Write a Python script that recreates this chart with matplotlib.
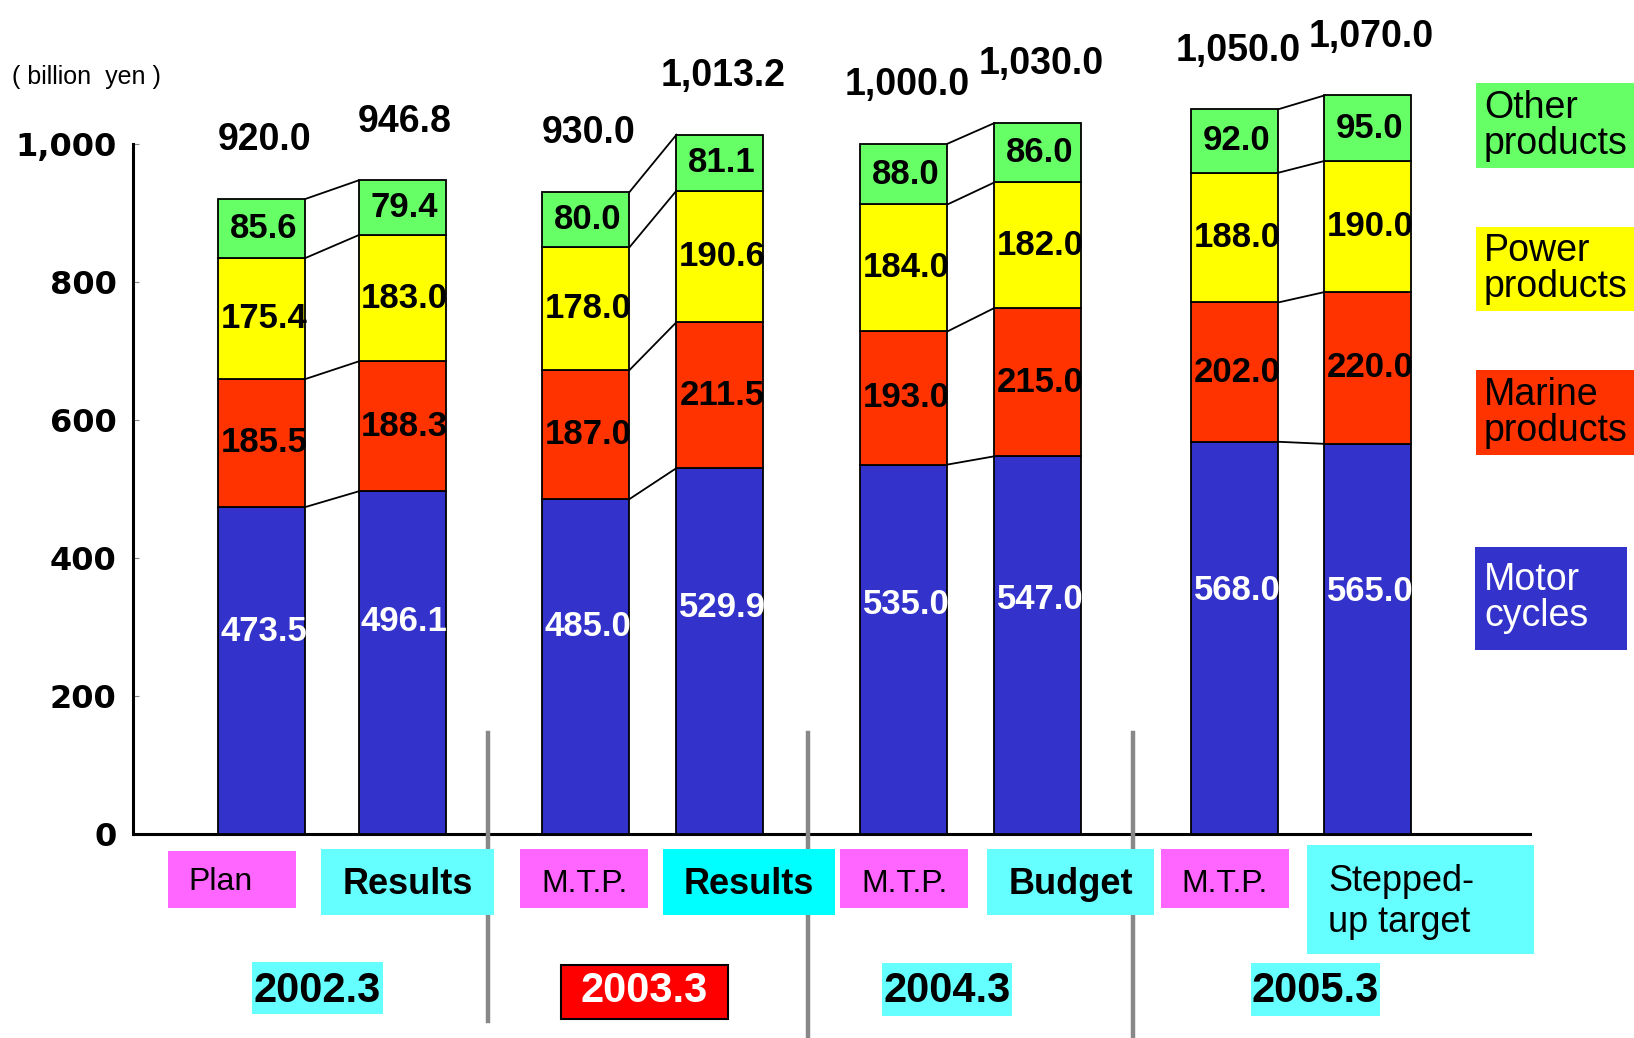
import matplotlib
matplotlib.use("Agg")
import matplotlib.pyplot as plt
from matplotlib.patches import Rectangle
from matplotlib.lines import Line2D

# ---- data (billion yen) ----
categories = ["Plan", "Results", "M.T.P.", "Results",
              "M.T.P.", "Budget", "M.T.P.", "Stepped-\nup target"]
years = ["2002.3", "2003.3", "2004.3", "2005.3"]
segments = ["Motor\ncycles", "Marine\nproducts", "Power\nproducts", "Other\nproducts"]
motor = [473.5, 496.1, 485.0, 529.9, 535.0, 547.0, 568.0, 565.0]
marine = [185.5, 188.3, 187.0, 211.5, 193.0, 215.0, 202.0, 220.0]
power = [175.4, 183.0, 178.0, 190.6, 184.0, 182.0, 188.0, 190.0]
other = [85.6, 79.4, 80.0, 81.1, 88.0, 86.0, 92.0, 95.0]
totals = [920.0, 946.8, 930.0, 1013.2, 1000.0, 1030.0, 1050.0, 1070.0]
yticks = [0, 200, 400, 600, 800, 1000]

# ---- layout (pixel units of the 1634x1038 canvas) ----
W, H, DPI = 1634, 1038, 100
X0, X1, Y0 = 133.4, 1530.0, 833.7     # axis left, axis right, pixel row of zero
PX_PER_UNIT = 0.69
bar_x = [262, 402, 586, 720, 904, 1038, 1235, 1368]
bar_w = 87

series = [motor, marine, power, other]
colors = ["#3333CC", "#FF3300", "#FFFF00", "#66FF66"]
label_frac = [0.62, 0.5, 0.5, 0.5]
label_color = ["white", "black", "black", "black"]

plt.rcParams["font.family"] = ["Liberation Sans", "DejaVu Sans"]

fig = plt.figure(figsize=(W / DPI, H / DPI), dpi=DPI)
ax = fig.add_axes([X0 / W, 1 - Y0 / H, (X1 - X0) / W, Y0 / H])
ax.set_xlim(X0, X1)
ax.set_ylim(0, Y0 / PX_PER_UNIT)


def fx(x):
    return x / W


def fy(y):
    return 1 - y / H


# stacked bars
bottoms = [0.0] * len(motor)
bounds = []
for vals, col, frac, tcol in zip(series, colors, label_frac, label_color):
    ax.bar(bar_x, vals, width=bar_w, bottom=bottoms, color=col,
           edgecolor="black", linewidth=1.3, zorder=3)
    for xi, v, b in zip(bar_x, vals, bottoms):
        ax.text(xi + 2, b + v * frac, f"{v:.1f}", ha="center", va="center",
                fontsize=25, fontweight="bold", color=tcol, zorder=5)
    bottoms = [b + v for b, v in zip(bottoms, vals)]
    bounds.append(list(bottoms))

# connector lines between paired bars
for i in range(0, len(bar_x), 2):
    j = i + 1
    for level in bounds:
        ax.plot([bar_x[i] + bar_w / 2, bar_x[j] - bar_w / 2],
                [level[i], level[j]], color="black", lw=1.3, zorder=4)

# totals above bars
for xi, t in zip(bar_x, totals):
    ax.text(xi + 3, t + 85, f"{t:,.1f}", ha="center", va="center",
            fontsize=27, fontweight="bold", color="black")

# axes styling
for s in ["top", "right"]:
    ax.spines[s].set_visible(False)
ax.spines["left"].set_bounds(0, 1000)
ax.spines["left"].set_linewidth(2.2)
ax.spines["bottom"].set_linewidth(2.2)
ax.set_xticks([])
ax.set_yticks(yticks)
ax.set_yticklabels([f"{v:,}" for v in yticks], fontsize=23,
                   fontweight="bold", family="DejaVu Sans")
ax.tick_params(axis="y", direction="in", length=4, width=0.8,
               color="#888888", pad=12)

fig.text(fx(12), fy(77), "( billion  yen )", fontsize=18, va="center", ha="left")


def box(x0, y0, x1, y1, face, edge="none", lw=0):
    fig.add_artist(Rectangle((fx(x0), fy(y1)), fx(x1) - fx(x0), fy(y0) - fy(y1),
                             transform=fig.transFigure, facecolor=face,
                             edgecolor=edge, linewidth=lw, zorder=1))


# category labels under the bars
cat_boxes = [(168, 851, 296, 908), (321, 849, 494, 915), (520, 849, 648, 908),
             (663, 849, 835, 915), (840, 849, 968, 908), (987, 849, 1154, 915),
             (1161, 849, 1289, 908), (1307, 845, 1534, 954)]
cat_faces = ["#FF66FF", "#66FFFF", "#FF66FF", "#00FFFF",
             "#FF66FF", "#66FFFF", "#FF66FF", "#66FFFF"]
cat_bold = [False, True, False, True, False, True, False, False]
for lab, (x0, y0, x1, y1), face, bold in zip(categories, cat_boxes, cat_faces, cat_bold):
    box(x0, y0, x1, y1, face)
    if lab == "Plan":
        fig.text(fx(188), fy(882), lab, fontsize=23, ha="left", va="center")
    elif "\n" in lab:
        fig.text(fx(1328), fy(902), lab, fontsize=26, ha="left", va="center",
                 linespacing=1.2)
    else:
        fig.text(fx((x0 + x1) / 2), fy(884), lab, ha="center", va="center",
                 fontsize=26 if bold else 23,
                 fontweight="bold" if bold else "normal")

# fiscal year labels
year_boxes = [(252, 962, 383, 1014), (561, 965, 728, 1019),
              (882, 963, 1012, 1016), (1251, 963, 1380, 1016)]
for k, (yr, (x0, y0, x1, y1)) in enumerate(zip(years, year_boxes)):
    if k == 1:
        box(x0, y0, x1, y1, "#FF0000", edge="black", lw=1.5)
        tc = "white"
    else:
        box(x0, y0, x1, y1, "#66FFFF")
        tc = "black"
    fig.text(fx((x0 + x1) / 2), fy(991), yr, ha="center", va="center",
             fontsize=30, fontweight="bold", color=tc)

# group separators (behind the label boxes, above the axis line)
for xs, ye in [(487.7, 1021), (807.6, 1038), (1132.8, 1038)]:
    fig.add_artist(Line2D([fx(xs), fx(xs)], [fy(732.6), fy(ye)],
                          transform=fig.transFigure, color="#888888",
                          lw=3.2, zorder=0.5))

# segment key on the right
key_boxes = [(1474.5, 547, 1627, 650), (1475.6, 370, 1634, 455.4),
             (1475.6, 227, 1634, 310.5), (1475.6, 83.4, 1634, 167.8)]
key_text = ["white", "black", "black", "black"]
for name, col, tc, (x0, y0, x1, y1) in zip(segments, colors, key_text, key_boxes):
    box(x0, y0, x1, y1, col)
    fig.text(fx(1484), fy((y0 + y1) / 2), name, ha="left", va="center",
             fontsize=27, color=tc, linespacing=1.0)

fig.savefig("out.png", dpi=DPI)
